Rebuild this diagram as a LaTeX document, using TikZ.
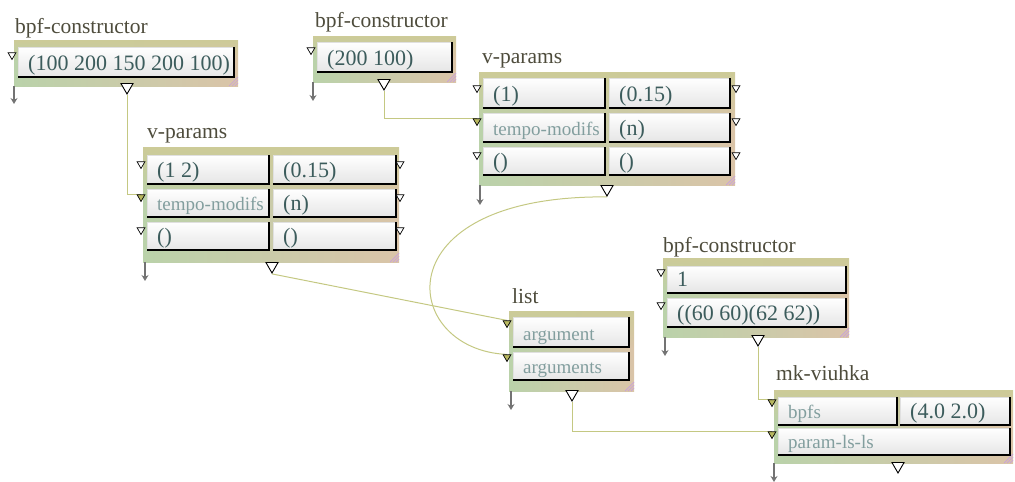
\documentclass[tikz,border=0pt]{standalone}
\usepackage{fontspec}
\setmainfont{Liberation Serif}
\usetikzlibrary{shapes.geometric,arrows.meta,fadings,backgrounds}
\definecolor{titlec}{RGB}{78,76,60}
\definecolor{valc}{RGB}{60,92,92}
\definecolor{labc}{RGB}{130,158,158}
\definecolor{frgreen}{RGB}{186,210,170}
\definecolor{frtan}{RGB}{218,196,168}
\definecolor{frkhaki}{RGB}{205,203,152}
\definecolor{wirec}{RGB}{196,200,130}
\definecolor{inletc}{RGB}{184,184,96}
\definecolor{hatchc}{RGB}{200,160,220}
\tikzset{
 frame/.style={rectangle, inner sep=0pt, outer sep=0pt, left color=frgreen, right color=frtan},
 field/.style={rectangle, inner sep=0pt, outer sep=0pt, top color=white, bottom color=black!10, draw=black!12, line width=0.6pt},
 shadowline/.style={black, line width=2.4pt},
 title/.style={inner sep=0pt, text=titlec, font=\fontsize{21.5}{24}\selectfont},
 val/.style={inner sep=0pt, text=valc, font=\fontsize{22}{24}\selectfont},
 lab/.style={inner sep=0pt, text=labc, font=\fontsize{19}{22}\selectfont},
 inlet/.style={regular polygon, regular polygon sides=3, shape border rotate=180, draw=black, fill=white, inner sep=0pt, minimum size=9pt, line width=0.7pt},
 linked/.style={fill=inletc},
 outlet/.style={regular polygon, regular polygon sides=3, shape border rotate=180, draw=black, fill=white, inner sep=0pt, minimum size=14pt, line width=0.9pt},
 wire/.style={draw=wirec, line width=1pt},
 downarr/.style={draw=black!55, line width=1.3pt, -{Stealth[length=6pt,width=7pt]}},
}
\newcommand\mkframe[5]{%
  \node[frame, minimum width={#4-#2}, minimum height={#5-#3}] (#1) at ({(#2+#4)/2},{(#3+#5)/2}) {};
  \fill[frkhaki, path fading=south] (#2,#3) rectangle (#4,{#3+0.45*(#5-#3)});
  \foreach \k in {3,6,9} \draw[hatchc, line width=0.7pt] (#4-\k,#5) -- (#4,#5-\k);
}
\newcommand\mkfield[7]{%
  \node[field, minimum width={#4-#2}, minimum height={#5-#3}] (#1) at ({(#2+#4)/2},{(#3+#5)/2}) {};
  \draw[shadowline] (#1.north east) -- (#1.south east) -- (#1.south west);
  \node[#7, anchor=base west] (#1t) at ([xshift=10pt,yshift=7pt]#1.south west) {#6};
}
\begin{document}
\begin{tikzpicture}[x=1pt,y=-1pt]
\useasboundingbox (0,0) rectangle (1015,482);

% bpf-constructor A
\node[title, anchor=base west] (ttlA) at (15,33) {bpf-constructor};
\mkframe{frA}{14}{40}{238}{86}
\mkfield{fA}{18}{47}{234}{77}{(100 200 150 200 100)}{val}
\node[inlet] (iA) at (12,55) {};
\node[outlet] (oA) at (127,87) {};
\draw[downarr] (frA.south west) -- ++(0,18);

% bpf-constructor B
\node[title, anchor=base west] (ttlB) at (315,27) {bpf-constructor};
\mkframe{frB}{313}{36}{456}{82}
\mkfield{fB}{317}{42}{452}{72}{(200 100)}{val}
\node[inlet] (iB) at (311,50) {};
\node[outlet] (oB) at (384,83) {};
\draw[downarr] (frB.south west) -- ++(0,19);

% v-params B
\node[title, anchor=base west] (ttlVB) at (482,63) {v-params};
\mkframe{frVB}{479}{72}{735}{185}
\mkfield{fVB11}{483}{78}{605}{108}{(1)}{val}
\mkfield{fVB12}{609}{78}{730}{108}{(0.15)}{val}
\mkfield{fVB21}{483}{113}{605}{142}{tempo-modifs}{lab}
\mkfield{fVB22}{609}{113}{730}{142}{(n)}{val}
\mkfield{fVB31}{483}{147}{605}{175}{()}{val}
\mkfield{fVB32}{609}{147}{730}{175}{()}{val}
\node[inlet] (iVB1) at (477,88) {};
\node[inlet,linked] (iVB2) at (477,121) {};
\node[inlet] (iVB3) at (477,155) {};
\node[inlet] (rVB1) at (736,88) {};
\node[inlet] (rVB2) at (736,121) {};
\node[inlet] (rVB3) at (736,155) {};
\node[outlet] (oVB) at (607,189) {};
\draw[downarr] ([xshift=1pt]frVB.south west) -- ++(0,20);

% v-params A
\node[title, anchor=base west] (ttlVA) at (147,138) {v-params};
\mkframe{frVA}{143}{147}{399}{262}
\mkfield{fVA11}{147}{155}{269}{184}{(1 2)}{val}
\mkfield{fVA12}{273}{155}{396}{184}{(0.15)}{val}
\mkfield{fVA21}{147}{189}{269}{217}{tempo-modifs}{lab}
\mkfield{fVA22}{273}{189}{396}{217}{(n)}{val}
\mkfield{fVA31}{147}{222}{269}{250}{()}{val}
\mkfield{fVA32}{273}{222}{396}{250}{()}{val}
\node[inlet] (iVA1) at (141,164) {};
\node[inlet,linked] (iVA2) at (141,197) {};
\node[inlet] (iVA3) at (141,230) {};
\node[inlet] (rVA1) at (400,164) {};
\node[inlet] (rVA2) at (400,197) {};
\node[inlet] (rVA3) at (400,230) {};
\node[outlet] (oVA) at (272,266) {};
\draw[downarr] ([xshift=2pt]frVA.south west) -- ++(0,19);

% list
\node[title, anchor=base west] (ttlL) at (512,303) {list};
\mkframe{frL}{509}{311}{634}{391}
\mkfield{fL1}{513}{317}{629}{347}{argument}{lab}
\mkfield{fL2}{513}{352}{629}{380}{arguments}{lab}
\node[inlet,linked] (iL1) at (507,323) {};
\node[inlet,linked] (iL2) at (507,357) {};
\node[outlet] (oL) at (572,394) {};
\draw[downarr] ([xshift=2pt]frL.south west) -- ++(0,19);

% bpf-constructor C
\node[title, anchor=base west] (ttlC) at (663,252) {bpf-constructor};
\mkframe{frC}{663}{258}{849}{337}
\mkfield{fC1}{667}{266}{846}{293}{1}{val}
\mkfield{fC2}{667}{298}{846}{327}{((60 60)(62 62))}{val}
\node[inlet] (iC1) at (661,272) {};
\node[inlet] (iC2) at (661,305) {};
\node[outlet] (oC) at (758,339) {};
\draw[downarr] ([xshift=2pt]frC.south west) -- ++(0,19);

% mk-viuhka
\node[title, anchor=base west] (ttlM) at (776,380) {mk-viuhka};
\mkframe{frM}{774}{390}{1013}{463}
\mkfield{fM11}{778}{397}{897}{425}{bpfs}{lab}
\mkfield{fM12}{900}{397}{1010}{425}{(4.0 2.0)}{val}
\mkfield{fM2}{778}{428}{1010}{455}{param-ls-ls}{lab}
\node[inlet,linked] (iM1) at (772,402) {};
\node[inlet,linked] (iM2) at (772,434) {};
\node[outlet] (oM) at (898,466) {};
\draw[downarr] (frM.south west) -- ++(0,19);

% wires
\begin{pgfonlayer}{background}
\draw[wire] (oA.south) |- (iVA2.north);
\draw[wire] (oB.south) |- (iVB2.north);
\draw[wire] (oVA.south) -- (iL1.north);
\draw[wire] (oVB.south) .. controls (380,195) and (400,350) .. (iL2.north);
\draw[wire] (oL.south) |- (iM2.north);
\draw[wire] (oC.south) |- (iM1.north);
\end{pgfonlayer}
\end{tikzpicture}
\end{document}
